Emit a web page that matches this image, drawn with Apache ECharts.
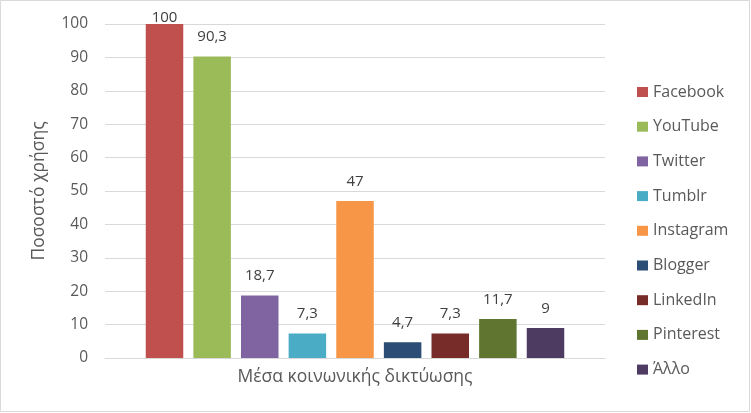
<!DOCTYPE html>
<html><head><meta charset="utf-8">
<script src="https://cdn.jsdelivr.net/npm/echarts@6/dist/echarts.min.js"></script>
<style>html,body{margin:0;padding:0;background:#fff}#c{width:751px;height:413px}</style>
</head><body><div id="c"></div>
<script>
const category = ['Μέσα κοινωνικής δικτύωσης'];
const seriesNames = ['Facebook','YouTube','Twitter','Tumblr','Instagram','Blogger','LinkedIn','Pinterest','Άλλο'];
const seriesValues = [100, 90.3, 18.7, 7.3, 47, 4.7, 7.3, 11.7, 9];
const colors = ['#C0504D','#9BBB59','#8064A2','#4BACC6','#F79646','#2C4D75','#772C2A','#5F7530','#4D3B62'];
const yTicks = {min:0, max:100, interval:10};
const FONT = 'Open Sans';
const chart = echarts.init(document.getElementById('c'));
chart.setOption({
  animation:false,
  color: colors,
  textStyle:{fontFamily:FONT},
  graphic:[{type:'rect',shape:{x:0.5,y:0.5,width:749,height:411},style:{fill:'none',stroke:'#d9d9d9',lineWidth:1}}],
  grid:{left:105,right:146,top:24,bottom:55,containLabel:false},
  legend:{orient:'vertical',left:637,top:84,padding:0,itemWidth:11,itemHeight:10,itemGap:18.7,icon:'rect',
    textStyle:{color:'#595959',fontSize:16,fontFamily:FONT,lineHeight:16}, data:seriesNames},
  xAxis:{type:'category',data:category,axisLine:{lineStyle:{color:'#d9d9d9'}},axisTick:{show:false},
    axisLabel:{color:'#595959',fontSize:17.5,margin:10,fontFamily:FONT}},
  yAxis:{type:'value',min:yTicks.min,max:yTicks.max,interval:yTicks.interval,
    name:'Ποσοστό χρήσης',nameLocation:'middle',nameGap:57,nameRotate:90,
    nameTextStyle:{color:'#595959',fontSize:17.5,fontFamily:FONT},
    axisLine:{show:false},axisTick:{show:false},
    axisLabel:{color:'#595959',fontSize:15.5,margin:17,fontFamily:FONT},
    splitLine:{lineStyle:{color:'#d9d9d9'}}},
  series: seriesNames.map((n,i)=>({
    name:n,type:'bar',barWidth:37.5,barGap:'27%',
    data:[seriesValues[i] >= yTicks.max ? {value:seriesValues[i],label:{distance:-1}} : seriesValues[i]],
    itemStyle:{color:colors[i]},
    label:{show:true,position:'top',distance:12,color:'#404040',fontSize:15,fontFamily:FONT,
      formatter:p=>String(p.value).replace('.',',')}
  }))
});
</script></body></html>
